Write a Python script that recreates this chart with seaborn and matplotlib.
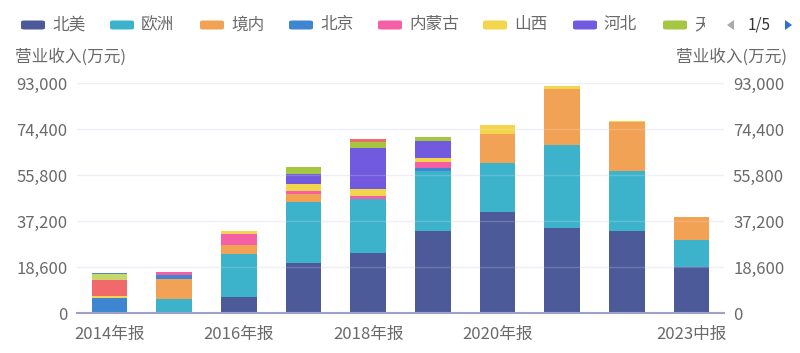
import numpy as np
import pandas as pd
import matplotlib
matplotlib.use("Agg")
import matplotlib.pyplot as plt
from matplotlib.patches import FancyBboxPatch, Polygon
from matplotlib.transforms import Bbox, TransformedBbox
import seaborn as sns

categories = ["2014年报", "2015年报", "2016年报", "2017年报", "2018年报",
              "2019年报", "2020年报", "2021年报", "2022年报", "2023中报"]
shown_labels = ["2014年报", "2016年报", "2018年报", "2020年报", "2023中报"]

north_america = [0, 0, 6700, 20500, 24300, 33200, 40800, 34250, 33300, 18700]
europe        = [0, 5900, 17400, 24600, 22000, 24100, 19800, 33850, 24200, 11000]
domestic      = [0, 7800, 3350, 2900, 0, 0, 11650, 22500, 19800, 9250]
beijing       = [6000, 1850, 0, 0, 0, 1500, 0, 0, 0, 0]
neimenggu     = [0, 1200, 4400, 1500, 950, 2400, 0, 0, 0, 0]
shanxi        = [1000, 0, 1200, 2700, 2800, 1700, 3600, 1350, 550, 0]
hebei         = [0, 0, 0, 4000, 16500, 6700, 0, 0, 0, 0]
tianjin       = [0, 0, 0, 3050, 2500, 1500, 0, 0, 0, 0]
liaoning      = [6600, 0, 0, 0, 1300, 0, 0, 0, 0, 0]
shandong      = [2100, 0, 0, 0, 0, 0, 0, 0, 0, 0]
jiangsu       = [700, 0, 0, 0, 0, 0, 0, 0, 0, 0]

series_names = ["北美", "欧洲", "境内", "北京", "内蒙古", "山西", "河北", "天津",
                "辽宁", "山东", "江苏"]
series_values = [north_america, europe, domestic, beijing, neimenggu, shanxi,
                 hebei, tianjin, liaoning, shandong, jiangsu]
colors = ["#4d5a9a", "#3cb3cb", "#f2a254", "#3f86d2", "#f55fa6", "#f3d54e",
          "#715ade", "#a5c641", "#f2696b", "#c4d86c", "#5e86b2"]

yticks = [0, 18600, 37200, 55800, 74400, 93000]

sns.set_theme(style="white")
plt.rcParams["font.family"] = ["Noto Sans CJK SC", "DejaVu Sans"]

txt_color = "#6a6a6a"
fs = 12

fig = plt.figure(figsize=(8, 3.53), dpi=100)
ax = fig.add_axes([77 / 800, 1 - 313.3 / 353, (724 - 77) / 800, (313.3 - 83) / 353])

cum = np.zeros(len(categories))
cums = []
for vals in series_values:
    cum = cum + np.array(vals, dtype=float)
    cums.append(cum.copy())

# draw from top of stack downwards so each segment shows its own colour
for name, c, top in reversed(list(zip(series_names, colors, cums))):
    sns.barplot(x=categories, y=top, color=c, saturation=1, width=0.55,
                ax=ax, linewidth=0, order=categories)

ax.set_ylim(0, 93000)
ax.set_xlim(-0.5, len(categories) - 0.5)
ax.set_yticks(yticks)
ax.set_yticklabels([f"{v:,}" for v in yticks])
ax.grid(axis="y", color="#ebedf7", linewidth=1.0)
ax.set_axisbelow(True)
ax.grid(axis="x", visible=False)
# faint grid showing through the bars
for v in yticks[1:]:
    ax.axhline(v, color="white", alpha=0.18, linewidth=1.0, zorder=5)
ax.set_xlabel("")
ax.set_ylabel("")
ax.set_xticks(range(len(categories)))
ax.set_xticklabels([c if c in shown_labels else "" for c in categories])
for s in ["left", "right", "top"]:
    ax.spines[s].set_visible(False)
ax.spines["bottom"].set_color("#9ea1c6")
ax.spines["bottom"].set_linewidth(1.5)
ax.spines["bottom"].set_zorder(6)
ax.tick_params(axis="x", length=0, pad=9, labelsize=fs, labelcolor=txt_color)
ax.tick_params(axis="y", length=0, pad=7, labelsize=fs, labelcolor=txt_color)

ax2 = ax.twinx()
ax2.set_ylim(0, 93000)
ax2.set_yticks(yticks)
ax2.set_yticklabels([f"{v:,}" for v in yticks])
ax2.tick_params(axis="y", length=0, pad=6.5, labelsize=fs, labelcolor=txt_color)
for s in ["left", "right", "top", "bottom"]:
    ax2.spines[s].set_visible(False)
ax2.grid(False)

# axis titles
fig.text(15 / 800, 1 - 57 / 353, "营业收入(万元)", ha="left", va="center",
         fontsize=fs, color=txt_color)
fig.text(787 / 800, 1 - 57 / 353, "营业收入(万元)", ha="right", va="center",
         fontsize=fs, color=txt_color)

# legend (page 1/5)
legend_patch_x = [21, 110, 200, 289, 378, 483, 573, 663]
ly = 25
for i, px in enumerate(legend_patch_x):
    p = FancyBboxPatch(((px) / 800, 1 - (ly + 4.5) / 353), 24 / 800, 9 / 353,
                       boxstyle="round,pad=0,rounding_size=0.004",
                       transform=fig.transFigure, facecolor=colors[i],
                       edgecolor="none")
    fig.patches.append(p)
    t = fig.text((px + 31) / 800, 1 - ly / 353, series_names[i], ha="left",
                 va="center", fontsize=fs, color=txt_color)
    if i == 7:
        t.set_clip_on(True)
        t.set_clip_box(TransformedBbox(Bbox([[0, 0], [705 / 800, 1]]),
                                       fig.transFigure))

# pager
fig.patches.append(Polygon([[727 / 800, 1 - 25 / 353], [734 / 800, 1 - 20 / 353],
                            [734 / 800, 1 - 30 / 353]], closed=True,
                           transform=fig.transFigure, facecolor="#aaaaaa",
                           edgecolor="none"))
fig.text(759 / 800, 1 - 25 / 353, "1/5", ha="center", va="center",
         fontsize=fs - 1, color="#333333")
fig.patches.append(Polygon([[792 / 800, 1 - 25 / 353], [785 / 800, 1 - 20 / 353],
                            [785 / 800, 1 - 30 / 353]], closed=True,
                           transform=fig.transFigure, facecolor="#2f6fd8",
                           edgecolor="none"))

fig.savefig("out.png", dpi=100)
